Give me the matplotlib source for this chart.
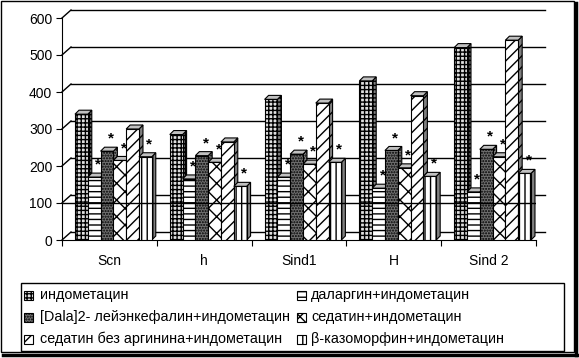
import numpy as np
import matplotlib.pyplot as plt
from matplotlib.patches import Polygon, Rectangle
from matplotlib.lines import Line2D

plt.rcParams['font.family'] = ['Liberation Sans', 'DejaVu Sans']
plt.rcParams['hatch.linewidth'] = 1.0

# data
groups = ['Scn', 'h', 'Sind1', 'H', 'Sind 2']
labels = ['индометацин', 'даларгин+индометацин', '[Dala]2- лейэнкефалин+индометацин',
          'седатин+индометацин', 'седатин без аргинина+индометацин', 'β-казоморфин+индометацин']
indomet = [340, 285, 380, 430, 520]
dalargin = [170, 165, 170, 140, 130]
dala = [240, 228, 232, 242, 245]
sedatin = [215, 210, 205, 195, 225]
sed_no_arg = [300, 265, 370, 390, 540]
bcasomorph = [225, 145, 210, 172, 180]
series = [indomet, dalargin, dala, sedatin, sed_no_arg, bcasomorph]
starred = [False, True, True, True, False, True]
hatches = ['++++', '---', '......', 'xx', '///', '|||']
faces = ['#e0e0e0', 'white', '#707070', 'white', 'white', 'white']

W, H = 579, 358
fig = plt.figure(figsize=(W / 100, H / 100), dpi=100)
ax = fig.add_axes([62 / W, (H - 240) / H, (536 - 62) / W, 222 / H])
ax.set_xlim(0, 5)
ax.set_ylim(0, 600)

px_x = 5 / 474.0   # data units per pixel
px_y = 600 / 222.0

# back wall gridlines + left wall diagonals
wdx, wdy = 9 * px_x, 8 * px_y
for v in range(0, 700, 100):
    ax.plot([wdx, 5 + wdx], [v + wdy, v + wdy], color='black', lw=1, clip_on=False, zorder=1)
    ax.plot([0, wdx], [v, v + wdy], color='black', lw=1, clip_on=False, zorder=1)

# bars with fake 3d
bw = 0.135
off = 0.137
ddx, ddy = 4 * px_x, 4 * px_y
z = 2
for i in range(len(groups)):
    for j, s in enumerate(series):
        x = i + off + j * bw
        v = s[i]
        side = Polygon([(x + bw, 0), (x + bw + ddx, ddy), (x + bw + ddx, v + ddy), (x + bw, v)],
                       closed=True, facecolor='#808080', edgecolor='black', hatch=hatches[j],
                       lw=0.8, zorder=z, clip_on=False)
        top = Polygon([(x, v), (x + ddx, v + ddy), (x + bw + ddx, v + ddy), (x + bw, v)],
                      closed=True, facecolor='#c0c0c0', edgecolor='black', lw=0.8, zorder=z,
                      clip_on=False)
        ax.add_patch(side)
        ax.add_patch(top)
        ax.bar(x, v, width=bw, align='edge', facecolor=faces[j], edgecolor='black',
               hatch=hatches[j], lw=0.8, zorder=z + 0.5)
        if starred[j]:
            ax.text(x + bw / 2 + ddx, v + ddy + 4, '*', ha='center', va='bottom',
                    fontsize=11, fontweight='bold', zorder=50)
        z += 1

# line at 100 drawn over the bars
ax.plot([0, 5], [100, 100], color='black', lw=1, zorder=100)

ax.spines['top'].set_visible(False)
ax.spines['right'].set_visible(False)
ax.set_facecolor('none')
ax.set_yticks(range(0, 700, 100))
ax.tick_params(axis='y', direction='out', length=4, pad=3, labelsize=10)
ax.set_xticks(range(6))
ax.set_xticklabels([])
ax.tick_params(axis='x', which='major', direction='out', length=4)
ax.set_xticks(np.arange(5) + 0.5, minor=True)
ax.set_xticklabels(groups, minor=True)
ax.tick_params(axis='x', which='minor', length=0, pad=10, labelsize=10)

# legend, drawn by hand: 2 columns, 3 rows
def fx(px):
    return px / W

def fy(py):
    return (H - py) / H

fig.add_artist(Rectangle((fx(21), fy(351)), fx(564) - fx(21), fy(283) - fy(351),
                         transform=fig.transFigure, facecolor='white', edgecolor='black', lw=1))
rows = [295, 317, 339]
icon_x = [24, 297]
text_x = [40, 311]
for j in range(6):
    col = j % 2
    row = j // 2
    yc = rows[row]
    fig.add_artist(Rectangle((fx(icon_x[col]), fy(yc + 4.5)), fx(9), 9 / H,
                             transform=fig.transFigure, facecolor=faces[j], edgecolor='black',
                             hatch=hatches[j], lw=0.8))
    fig.text(fx(text_x[col]), fy(yc), labels[j], fontsize=10.4, va='center', ha='left')

# chart border with shadow
fig.add_artist(Rectangle((0.5 / W, (H - 352) / H), 573 / W, 351 / H, transform=fig.transFigure,
                         fill=False, edgecolor='black', lw=1))
fig.add_artist(Line2D([576 / W, 576 / W], [(H - 355) / H, (H - 3) / H], transform=fig.transFigure,
                      color='black', lw=2.5))
fig.add_artist(Line2D([3 / W, 577.5 / W], [(H - 355) / H, (H - 355) / H], transform=fig.transFigure,
                      color='black', lw=2.5))

fig.savefig('out.png', dpi=100)
